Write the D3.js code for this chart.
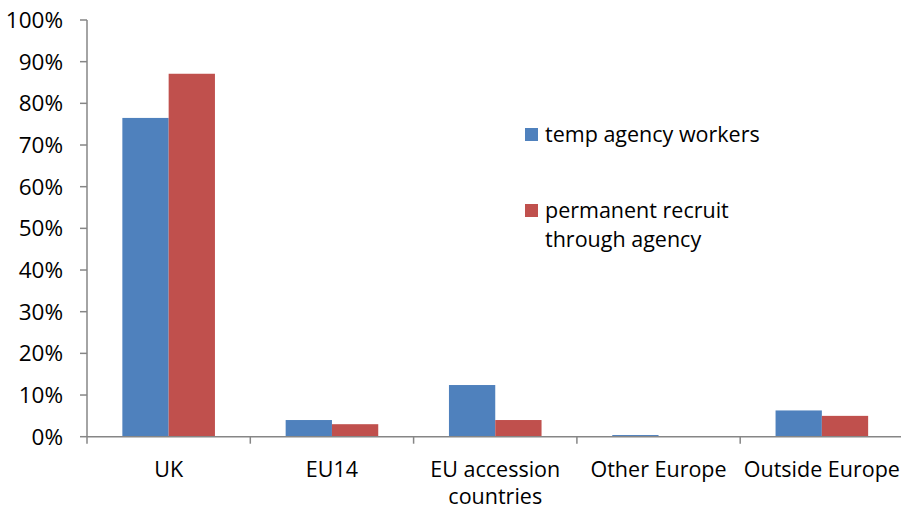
<!DOCTYPE html>
<html>
<head>
<meta charset="utf-8">
<script src="https://cdn.jsdelivr.net/npm/d3@7.9.0/dist/d3.min.js"></script>
<style>
  body { margin: 0; background: #fff; }
  svg { display: block; font-family: "Open Sans", sans-serif; }
</style>
</head>
<body>
<svg id="chart" width="901" height="509"></svg>
<script>
const categories = [["UK"], ["EU14"], ["EU accession", "countries"], ["Other Europe"], ["Outside Europe"]];
const seriesNames = ["temp agency workers", "permanent recruit\nthrough agency"];
const tempAgency = [0.765, 0.040, 0.124, 0.004, 0.063];
const permanent = [0.871, 0.030, 0.040, 0, 0.050];
const yTicks = [0, 0.1, 0.2, 0.3, 0.4, 0.5, 0.6, 0.7, 0.8, 0.9, 1.0];
const colors = ["#4f81bd", "#c0504d"];

const svg = d3.select("#chart");
const plotLeft = 87, plotRight = 903.5, plotTop = 20, plotBottom = 436.7;
const axisColor = "#868686";
const fontSize = "21.5px";

const x = d3.scaleBand()
    .domain(categories.map((d, i) => i))
    .range([plotLeft, plotRight])
    .paddingInner(0.433)
    .paddingOuter(0.2165);
const x1 = d3.scaleBand().domain([0, 1]).range([0, x.bandwidth()]);
const y = d3.scaleLinear().domain([0, 1]).range([plotBottom, plotTop]);

const series = [tempAgency, permanent];

// bars
series.forEach((vals, s) => {
    svg.append("g").selectAll("rect")
        .data(vals)
        .enter()
        .append("rect")
        .attr("x", (d, i) => x(i) + x1(s))
        .attr("y", d => y(d))
        .attr("width", x1.bandwidth())
        .attr("height", d => plotBottom - y(d))
        .attr("fill", colors[s]);
});

// y axis
const yAxis = svg.append("g");
yAxis.append("line")
    .attr("x1", plotLeft).attr("x2", plotLeft)
    .attr("y1", plotTop).attr("y2", plotBottom)
    .attr("stroke", axisColor).attr("stroke-width", 1.5);
yAxis.selectAll(".tick")
    .data(yTicks)
    .enter()
    .append("line")
    .attr("x1", plotLeft - 7).attr("x2", plotLeft)
    .attr("y1", d => y(d)).attr("y2", d => y(d))
    .attr("stroke", axisColor).attr("stroke-width", 1.5);
yAxis.selectAll("text")
    .data(yTicks)
    .enter()
    .append("text")
    .attr("x", 63)
    .attr("y", d => y(d))
    .attr("dy", "0.36em")
    .attr("text-anchor", "end")
    .style("font-size", "22.5px")
    .attr("fill", "#000")
    .text(d => d3.format(".0%")(d));

// x axis
const xAxis = svg.append("g");
xAxis.append("line")
    .attr("x1", plotLeft).attr("x2", plotRight)
    .attr("y1", plotBottom).attr("y2", plotBottom)
    .attr("stroke", axisColor).attr("stroke-width", 1.5);
const step = x.step();
xAxis.selectAll(".tick")
    .data(d3.range(categories.length + 1))
    .enter()
    .append("line")
    .attr("x1", i => plotLeft + i * step).attr("x2", i => plotLeft + i * step)
    .attr("y1", plotBottom).attr("y2", plotBottom + 7)
    .attr("stroke", axisColor).attr("stroke-width", 1.5);
const labels = xAxis.selectAll("text")
    .data(categories)
    .enter()
    .append("text")
    .attr("x", (d, i) => x(i) + x.bandwidth() / 2)
    .attr("y", 477)
    .attr("text-anchor", "middle")
    .style("font-size", fontSize)
    .attr("fill", "#000");
labels.selectAll("tspan")
    .data(d => d)
    .enter()
    .append("tspan")
    .attr("x", function () { return this.parentNode.getAttribute("x"); })
    .attr("dy", (d, i) => i === 0 ? 0 : 27)
    .text(d => d);

// legend
const legendY = [142, 218];
const legend = svg.append("g");
seriesNames.forEach((name, s) => {
    legend.append("rect")
        .attr("x", 525).attr("y", legendY[s] - 14)
        .attr("width", 13).attr("height", 13)
        .attr("fill", colors[s]);
    const t = legend.append("text")
        .attr("x", 545).attr("y", legendY[s])
        .style("font-size", fontSize)
        .attr("fill", "#000");
    name.split("\n").forEach((line, k) => {
        t.append("tspan").attr("x", 545).attr("dy", k === 0 ? 0 : 29).text(line);
    });
});
</script>
</body>
</html>
